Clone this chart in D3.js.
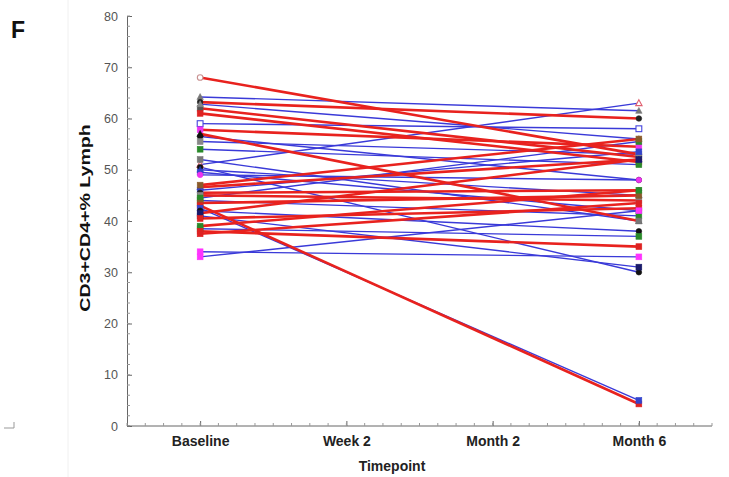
<!DOCTYPE html>
<html>
<head>
<meta charset="utf-8">
<script src="https://cdn.jsdelivr.net/npm/d3@7"></script>
<style>
  body { margin: 0; background: #fff; }
  svg { display: block; font-family: "Liberation Sans", Arial, sans-serif; }
</style>
</head>
<body>
<svg id="chart" width="729" height="477"></svg>
<script>
// timepoints on the x axis
var timepoints = ["Baseline", "Week 2", "Month 2", "Month 6"]

// one entry per subject: value at Baseline and at Month 6
var baseline = [68, 64.2, 63.2, 62, 61, 62.8, 59, 57.8, 57, 56.5,
                55.5, 54, 51, 50.5, 50, 49.5, 49, 46.6, 46, 45.5,
                45, 44.5, 44, 43.5, 43, 42.5, 42, 41.5, 41, 40.5,
                39, 38.5, 38, 37.5, 34, 33, 52, 47]
var month6 = [53, 61.5, 60, 52.5, 51.5, 56, 58, 54.5, 40, 48,
              53, 51, 63, 30, 45, 42, 48, 52, 53.5, 46,
              44, 55.5, 41, 45, 4.3, 5, 38, 52, 31, 42.5,
              46, 37, 35, 43.5, 33, 42, 40, 56]
var lineGroup = ["r","b","r","r","r","b","b","r","r","b",
                 "b","b","b","b","b","b","b","r","b","r",
                 "r","b","b","r","r","b","b","r","b","r",
                 "r","b","r","r","b","b","b","r"]
var markerColor = ["#c89090","#777777","#222222","#555555","#dd2222","#888888","#4444dd","#ee33ee","#111111","#111111",
                   "#888888","#2a8a2a","#e06070","#111111","#2233aa","#3344cc","#ee33ee","#2233aa","#3344cc","#222222",
                   "#888888","#2a8a2a","#2a8a2a","#8a5a2a","#dd2222","#3344cc","#111111","#1a1a6a","#1a1a6a","#dd2222",
                   "#2a8a2a","#2a8a2a","#dd2222","#dd2222","#ff33ff","#ff33ff","#777777","#8a5a2a"]
var markerShape = ["co","t","c","s","s","t","so","s","t","c",
                   "s","s","to","c","t","s","c","t","s","c",
                   "s","s","s","s","s","s","c","s","s","s",
                   "s","s","s","s","s","s","s","s"]

var svg = d3.select("#chart")

var x = d3.scalePoint().domain(timepoints).range([127, 712]).padding(0.5)
var y = d3.scaleLinear().domain([0, 80]).range([426, 16])

// faint panel edge
svg.append("line").attr("x1", 68).attr("x2", 68).attr("y1", 0).attr("y2", 477)
  .attr("stroke", "#f0f0f0").attr("stroke-width", 1)
svg.append("path").attr("d", "M4,428 L14,428 L14,422").attr("fill", "none")
  .attr("stroke", "#999").attr("stroke-width", 1)

svg.append("text").attr("x", 11).attr("y", 38).text("F")
  .attr("font-weight", "bold").attr("font-size", 23).attr("fill", "#111")

// axes
var yAxis = d3.axisLeft(y).tickValues(d3.range(0, 81, 10)).tickSizeInner(-5).tickSizeOuter(0).tickPadding(9)
var gy = svg.append("g").attr("transform", "translate(127,0)").call(yAxis)
gy.selectAll("text").attr("font-size", 12.5).attr("fill", "#555").attr("font-family", "Liberation Sans, Arial")
gy.selectAll("line, path").attr("stroke", "#666")

gy.selectAll(".minor").data(d3.range(0, 81, 2)).enter().append("line")
  .attr("x1", 0).attr("x2", 3).attr("y1", d => y(d)).attr("y2", d => y(d))
  .attr("stroke", "#999")

var xAxis = d3.axisBottom(x).tickSizeInner(-5).tickSizeOuter(0).tickPadding(10)
var gx = svg.append("g").attr("transform", "translate(0,426)").call(xAxis)
gx.select(".domain").attr("d", "M127,0H712")
gx.selectAll("line, path").attr("stroke", "#666")
gx.selectAll("text").attr("font-size", 14).attr("font-weight", "bold").attr("fill", "#222")
  .attr("font-family", "Liberation Sans, Arial")

var step = x.step()
var minorX = d3.range(0, 33).map(i => 127 + i * step / 8).filter(v => v <= 712)
gx.selectAll(".minor").data(minorX).enter().append("line")
  .attr("x1", d => d).attr("x2", d => d).attr("y1", 0).attr("y2", -3)
  .attr("stroke", "#999")

svg.append("text").attr("transform", "translate(90,218) rotate(-90) scale(1.4,1)")
  .attr("text-anchor", "middle").attr("font-weight", "bold").attr("font-size", 14)
  .attr("fill", "#111").text("CD3+CD4+% Lymph")

svg.append("text").attr("x", 392).attr("y", 471).attr("text-anchor", "middle")
  .attr("font-weight", "bold").attr("font-size", 14).attr("fill", "#222").text("Timepoint")

// subject lines: blue first, red on top
var subjects = baseline.map((b, i) => ({b: b, m: month6[i], g: lineGroup[i], c: markerColor[i], s: markerShape[i]}))
var ordered = subjects.filter(d => d.g == "b").concat(subjects.filter(d => d.g == "r"))

svg.append("g").selectAll("line").data(ordered).enter().append("line")
  .attr("x1", x("Baseline")).attr("x2", x("Month 6"))
  .attr("y1", d => y(d.b)).attr("y2", d => y(d.m))
  .attr("stroke", d => d.g == "r" ? "#e8221e" : "#3a3ad8")
  .attr("stroke-width", d => d.g == "r" ? 2.6 : 1.4)

function marker(g, cx, cy, d) {
  var open = d.s.length > 1
  var shape = d.s[0]
  var el
  if (shape == "c") el = g.append("circle").attr("cx", cx).attr("cy", cy).attr("r", 2.8)
  else if (shape == "t") el = g.append("path").attr("d", "M" + cx + "," + (cy - 3.4) + "L" + (cx + 3.2) + "," + (cy + 2.5) + "L" + (cx - 3.2) + "," + (cy + 2.5) + "Z")
  else el = g.append("rect").attr("x", cx - 2.9).attr("y", cy - 2.9).attr("width", 5.8).attr("height", 5.8)
  el.attr("fill", open ? "#fff" : d.c).attr("stroke", d.c).attr("stroke-width", open ? 1.1 : 0.6)
}

var gm = svg.append("g")
subjects.forEach(d => {
  marker(gm, x("Baseline"), y(d.b), d)
  marker(gm, x("Month 6"), y(d.m), d)
})
</script>
</body>
</html>
